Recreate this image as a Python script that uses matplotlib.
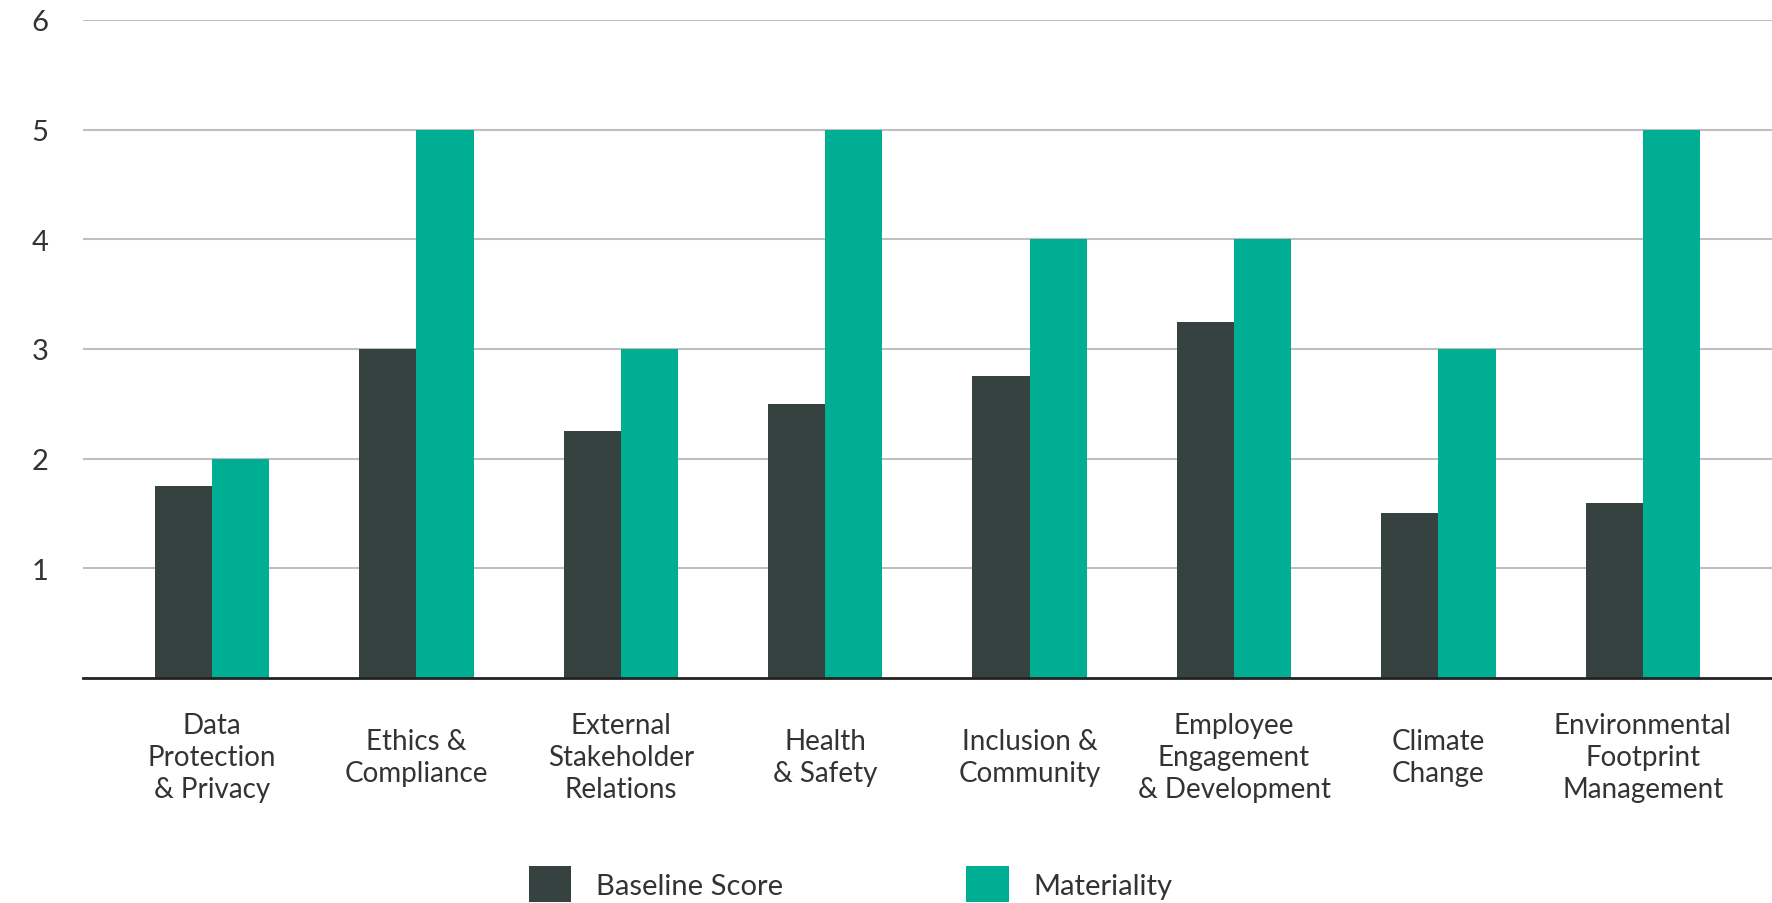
import numpy as np
import matplotlib.pyplot as plt

plt.rcParams['font.family'] = ['Lato', 'DejaVu Sans']

categories = ['Data\nProtection\n& Privacy', 'Ethics &\nCompliance',
              'External\nStakeholder\nRelations', 'Health\n& Safety',
              'Inclusion &\nCommunity', 'Employee\nEngagement\n& Development',
              'Climate\nChange', 'Environmental\nFootprint\nManagement']
baseline = [1.75, 3.0, 2.25, 2.5, 2.75, 3.25, 1.5, 1.6]
materiality = [2, 5, 3, 5, 4, 4, 3, 5]
yticks = [1, 2, 3, 4, 5, 6]

DARK = '#364240'
TEAL = '#00ae94'
TEXT = '#333333'

fig = plt.figure(figsize=(17.72, 9.04), dpi=100)
ax = fig.add_axes([0.0468, 0.2489, 0.9532, 0.7279])

x = np.arange(len(categories))
w = 0.28
ax.bar(x - w / 2, baseline, w, color=DARK, label='Baseline Score', zorder=3)
ax.bar(x + w / 2, materiality, w, color=TEAL, label='Materiality', zorder=3)

ax.set_xlim(-0.632, len(categories) - 1 + 0.632)
ax.set_ylim(0, 6)
ax.set_yticks(yticks)
ax.set_yticklabels([str(t) for t in yticks])
ax.yaxis.grid(True, color='#bfbfc1', lw=1.5, zorder=0)
ax.set_axisbelow(True)
ax.tick_params(axis='y', length=0, pad=25, labelsize=21, labelcolor=TEXT)
ax.tick_params(axis='x', length=0)

for s in ['top', 'right', 'left']:
    ax.spines[s].set_visible(False)
ax.spines['bottom'].set_color('#222222')
ax.spines['bottom'].set_linewidth(2)
ax.spines['bottom'].set_zorder(4)

ax.set_xticks(x)
ax.set_xticklabels([])
for xi, lab in zip(x, categories):
    ax.annotate(lab, (xi, 0), xycoords=('data', 'axes fraction'),
                xytext=(0, -57), textcoords='offset points',
                ha='center', va='center', fontsize=20, color=TEXT,
                linespacing=1.27)

handles, labels = ax.get_legend_handles_labels()
fig.legend(handles, labels, loc='center', bbox_to_anchor=(0.48, 0.021),
           ncol=2, frameon=False, fontsize=21, handlelength=1.45,
           handleheight=1.5, handletextpad=0.85, columnspacing=6.3,
           labelcolor=TEXT)

fig.savefig('out.png', dpi=100)
